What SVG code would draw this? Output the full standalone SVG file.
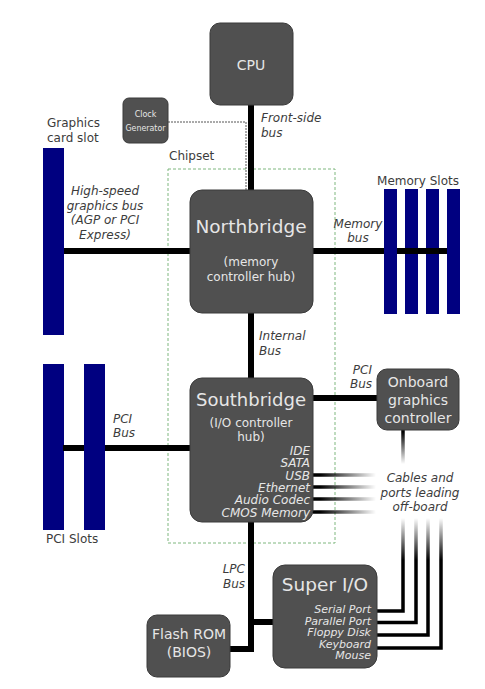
<svg xmlns="http://www.w3.org/2000/svg" width="485" height="689" viewBox="0 0 485 689">
<style>
.box{fill:#505050;stroke:#3a3a3a;stroke-width:1}
.bt{fill:#e6e6e6;font-family:"DejaVu Sans",sans-serif;text-anchor:middle}
.it{fill:#e6e6e6;font-family:"DejaVu Sans",sans-serif;font-style:italic;text-anchor:end;font-size:12px}
.lbl{fill:#3c3c3c;font-family:"DejaVu Sans",sans-serif;font-size:12px}
.ilbl{fill:#3c3c3c;font-family:"DejaVu Sans",sans-serif;font-size:12px;font-style:italic}
.bus{stroke:#000;stroke-width:6;fill:none}
.slot{fill:#000080}
.thin{stroke-width:3.5;fill:none}
</style>
<defs>
<linearGradient id="gSB" gradientUnits="userSpaceOnUse" x1="320" y1="0" x2="376" y2="0">
<stop offset="0" stop-color="#000"/><stop offset="1" stop-color="#000" stop-opacity="0"/>
</linearGradient>
<linearGradient id="gOG" gradientUnits="userSpaceOnUse" x1="0" y1="432" x2="0" y2="464">
<stop offset="0" stop-color="#000"/><stop offset="1" stop-color="#000" stop-opacity="0"/>
</linearGradient>
<linearGradient id="gSIO" gradientUnits="userSpaceOnUse" x1="0" y1="560" x2="0" y2="518">
<stop offset="0" stop-color="#000"/><stop offset="1" stop-color="#000" stop-opacity="0"/>
</linearGradient>
</defs>

<g id="chipset">
<rect x="168" y="169" width="167" height="374" fill="none" stroke="#7fb77f" stroke-width="1" stroke-dasharray="3,2"/>
<text class="lbl" x="169" y="160">Chipset</text>
</g>

<g id="connectors">
<line class="bus" x1="251" y1="105" x2="251" y2="190"/>
<path d="M168,122 H246 V190" fill="none" stroke="#555" stroke-width="1" stroke-dasharray="2,1"/>
<line class="bus" x1="63" y1="251" x2="190" y2="251"/>
<line class="bus" x1="313" y1="251" x2="448" y2="251"/>
<line class="bus" x1="251" y1="313" x2="251" y2="378"/>
<line class="bus" x1="63" y1="448" x2="190" y2="448"/>
<line class="bus" x1="313" y1="398" x2="377" y2="398"/>
<path class="bus" d="M251,522 V649 H230"/>
<line class="bus" x1="251" y1="622" x2="273" y2="622"/>
<g stroke="url(#gSB)" class="thin">
<line x1="313" y1="475" x2="378" y2="475"/>
<line x1="313" y1="487" x2="378" y2="487"/>
<line x1="313" y1="499" x2="378" y2="499"/>
<line x1="313" y1="512" x2="378" y2="512"/>
</g>
<line x1="403" y1="430" x2="403" y2="465" stroke="url(#gOG)" class="thin"/>
<g stroke="url(#gSIO)" class="thin">
<path d="M377,611 H403 V518"/>
<path d="M377,622.5 H416 V518"/>
<path d="M377,635 H428 V518"/>
<path d="M377,648 H441 V518"/>
</g>
<text class="ilbl" x="261" y="122">Front-side</text>
<text class="ilbl" x="261" y="137">bus</text>
<g class="ilbl" text-anchor="middle">
<text x="105" y="195">High-speed</text>
<text x="105" y="210">graphics bus</text>
<text x="105" y="224">(AGP or PCI</text>
<text x="105" y="239">Express)</text>
<text x="358" y="228">Memory</text>
<text x="358" y="242">bus</text>
<text x="420" y="482">Cables and</text>
<text x="420" y="497">ports leading</text>
<text x="420" y="511">off-board</text>
</g>
<text class="ilbl" x="259" y="340">Internal</text>
<text class="ilbl" x="259" y="355">Bus</text>
<text class="ilbl" x="113" y="423">PCI</text>
<text class="ilbl" x="113" y="437">Bus</text>
<g class="ilbl" text-anchor="end">
<text x="372" y="374">PCI</text>
<text x="372" y="388">Bus</text>
<text x="245" y="573">LPC</text>
<text x="245" y="588">Bus</text>
</g>
</g>

<g id="cpu">
<rect class="box" x="210" y="23" width="83" height="82" rx="10"/>
<text class="bt" x="251" y="70" font-size="14">CPU</text>
</g>

<g id="clock">
<rect class="box" x="123" y="98" width="45" height="45" rx="6"/>
<text class="bt" x="145.5" y="117" font-size="8" font-family="DejaVu Sans Condensed">Clock</text>
<text class="bt" x="145.5" y="131" font-size="8" textLength="40" lengthAdjust="spacingAndGlyphs">Generator</text>
</g>

<g id="graphics-slot">
<rect class="slot" x="43" y="148" width="21" height="187"/>
<text class="lbl" x="47" y="127">Graphics</text>
<text class="lbl" x="47" y="142">card slot</text>
</g>

<g id="memory-slots">
<rect class="slot" x="384" y="189" width="13" height="125"/>
<rect class="slot" x="405" y="189" width="13" height="125"/>
<rect class="slot" x="426" y="189" width="13" height="125"/>
<rect class="slot" x="447" y="189" width="13" height="125"/>
<line class="bus" x1="397" y1="251" x2="447" y2="251" stroke="#000" stroke-width="6"/>
<text class="lbl" x="418" y="185" text-anchor="middle">Memory Slots</text>
</g>

<g id="northbridge">
<rect class="box" x="190" y="190" width="123" height="123" rx="12"/>
<text class="bt" x="251" y="233" font-size="18.5">Northbridge</text>
<text class="bt" x="251" y="266" font-size="12">(memory</text>
<text class="bt" x="251" y="281" font-size="12">controller hub)</text>
</g>

<g id="southbridge">
<rect class="box" x="190" y="378" width="123" height="144" rx="12"/>
<text class="bt" x="251" y="406" font-size="18">Southbridge</text>
<text class="bt" x="251" y="427" font-size="12">(I/O controller</text>
<text class="bt" x="251" y="441" font-size="12">hub)</text>
<text class="it" x="310" y="455">IDE</text>
<text class="it" x="310" y="467">SATA</text>
<text class="it" x="310" y="479.5">USB</text>
<text class="it" x="310" y="492">Ethernet</text>
<text class="it" x="310" y="504">Audio Codec</text>
<text class="it" x="310" y="516.5">CMOS Memory</text>
</g>

<g id="onboard-graphics">
<rect class="box" x="377" y="369" width="82" height="61" rx="10"/>
<text class="bt" x="418" y="387" font-size="14">Onboard</text>
<text class="bt" x="418" y="405" font-size="14">graphics</text>
<text class="bt" x="418" y="423" font-size="14">controller</text>
</g>

<g id="pci-slots">
<rect class="slot" x="43" y="364" width="21" height="166"/>
<rect class="slot" x="84" y="364" width="21" height="166"/>
<line x1="63" y1="448" x2="84" y2="448" stroke="#000" stroke-width="6"/>
<text class="lbl" x="46" y="543">PCI Slots</text>
</g>

<g id="flash-rom">
<rect class="box" x="147" y="615" width="83" height="62" rx="10"/>
<text class="bt" x="189" y="639" font-size="14">Flash ROM</text>
<text class="bt" x="189" y="657" font-size="14">(BIOS)</text>
</g>

<g id="super-io">
<rect class="box" x="273" y="565" width="104" height="103" rx="12"/>
<text class="bt" x="325" y="591" font-size="18.5">Super I/O</text>
<g class="it" font-size="11px">
<text x="371" y="613" font-size="11">Serial Port</text>
<text x="371" y="624.5" font-size="11">Parallel Port</text>
<text x="371" y="636" font-size="11">Floppy Disk</text>
<text x="371" y="647.5" font-size="11">Keyboard</text>
<text x="371" y="659" font-size="11">Mouse</text>
</g>
</g>
</svg>
